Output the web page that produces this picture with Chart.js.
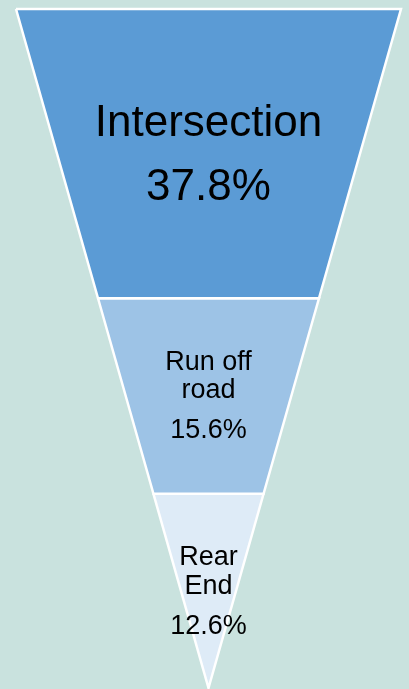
<!DOCTYPE html>
<html>
<head>
<meta charset="utf-8">
<script src="https://cdn.jsdelivr.net/npm/chart.js@4"></script>
<style>
  html, body { margin: 0; padding: 0; background: #c9e2de; overflow: hidden; }
  canvas { display: block; }
</style>
</head>
<body>
<canvas id="c" width="409" height="689"></canvas>
<script>
// ---- data ----
const categories = ['Intersection', ['Run off', 'road'], ['Rear', 'End']];
const shares = [37.8, 15.6, 12.6];
// funnel band boundaries on the vertical value axis (top of funnel = 100, apex = 0)
const bandLevels = [100, 57.4, 28.6, 0];
const colors = ['#5b9bd5', '#9dc3e6', '#deebf7'];

const halfWidth = level => level / 2; // x scale spans -50..50 at level 100

const datasets = categories.map((cat, i) => {
  const top = bandLevels[i], bot = bandLevels[i + 1];
  return {
    label: Array.isArray(cat) ? cat.join(' ') : cat,
    data: [
      { x: -halfWidth(top), y: top },
      { x: halfWidth(top), y: top },
      { x: halfWidth(bot), y: bot },
      { x: -halfWidth(bot), y: bot },
      { x: -halfWidth(top), y: top }
    ],
    showLine: true,
    fill: 'shape',
    backgroundColor: colors[i],
    borderColor: '#ffffff',
    borderWidth: 2.5,
    pointRadius: 0,
    pointHoverRadius: 0,
    tension: 0,
    clip: false
  };
});

const labelStyle = [
  { size: 44, lineGap: 44, pctGap: 64, dy: 2 },
  { size: 27, lineGap: 28, pctGap: 40, dy: 1 },
  { size: 27, lineGap: 29, pctGap: 40, dy: 1 }
];

const bgPlugin = {
  id: 'bg',
  beforeDraw(chart) {
    const ctx = chart.ctx;
    ctx.save();
    ctx.fillStyle = '#c9e2de';
    ctx.fillRect(0, 0, chart.width, chart.height);
    ctx.restore();
  }
};

const labelPlugin = {
  id: 'funnelLabels',
  afterDatasetsDraw(chart) {
    const ctx = chart.ctx;
    const xs = chart.scales.x, ys = chart.scales.y;
    ctx.save();
    ctx.fillStyle = '#000000';
    ctx.textAlign = 'center';
    ctx.textBaseline = 'middle';
    categories.forEach((cat, i) => {
      const st = labelStyle[i];
      const lines = Array.isArray(cat) ? cat : [cat];
      const cx = xs.getPixelForValue(0);
      const cy = (ys.getPixelForValue(bandLevels[i]) + ys.getPixelForValue(bandLevels[i + 1])) / 2 + st.dy;
      const total = (lines.length - 1) * st.lineGap + st.pctGap;
      let y = cy - total / 2;
      ctx.font = st.size + 'px "Liberation Sans", Arial, sans-serif';
      lines.forEach((ln, k) => {
        ctx.fillText(ln, cx, y);
        if (k < lines.length - 1) y += st.lineGap;
      });
      y += st.pctGap;
      ctx.fillText(shares[i].toFixed(1) + '%', cx, y);
    });
    ctx.restore();
  }
};

new Chart(document.getElementById('c'), {
  type: 'scatter',
  data: { datasets },
  options: {
    responsive: false,
    animation: false,
    devicePixelRatio: 1,
    layout: { padding: { left: 16, right: 8, top: 9, bottom: 1 } },
    scales: {
      x: { type: 'linear', min: -50, max: 50, display: false },
      y: { type: 'linear', min: 0, max: 100, display: false }
    },
    plugins: {
      legend: { display: false },
      tooltip: { enabled: false }
    }
  },
  plugins: [bgPlugin, labelPlugin]
});
</script>
</body>
</html>
